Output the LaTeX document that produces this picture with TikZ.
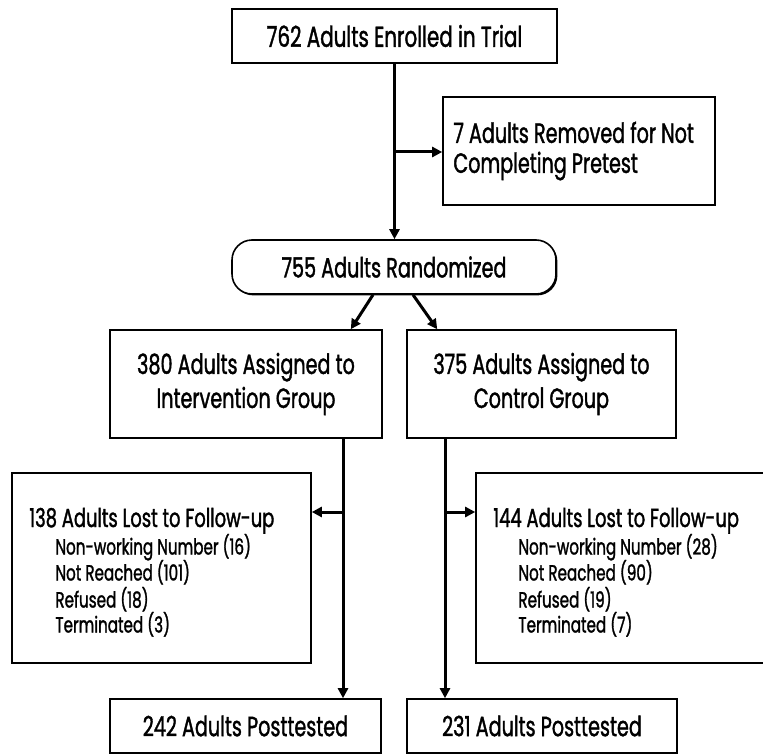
\documentclass[tikz,border=0pt]{standalone}
\usepackage{fontspec}
\setmainfont{Poppins}[FakeStretch=0.69,FakeBold=1.3]
\usetikzlibrary{arrows.meta,shadows}
\begin{document}
\begin{tikzpicture}[x=0.5pt,y=-0.5pt,
  box/.style={draw=black, line width=0.8pt, fill=white, inner sep=0pt, align=center,
    drop shadow={shadow xshift=0.7pt, shadow yshift=-0.7pt, fill=black, opacity=1},
    font=\fontsize{13.9}{17}\selectfont},
  conn/.style={line width=1.5pt, -{Triangle[length=5pt,width=5pt]}},
  txt/.style={anchor=west, inner sep=0pt, align=left, font=\fontsize{13.9}{15}\selectfont},
  title/.style={anchor=base west, inner sep=0pt, font=\fontsize{13}{15}\selectfont},
  item/.style={anchor=base west, inner sep=0pt, font=\fontsize{11}{13}\selectfont},
]
\clip (0,0) rectangle (763,754);
% boxes
\node[box, minimum width=162.5pt, minimum height=27pt, font=\fontsize{14.4}{17}\selectfont] (enrol) at (394.5,36) {762 Adults Enrolled in Trial};
\node[box, minimum width=136pt, minimum height=54pt] (removed) at (579,151) {};
\node[txt] (removedtxt) at (453,151) {7 Adults Removed for Not\\Completing Pretest};
\node[box, rounded corners=10pt, minimum width=162pt, minimum height=27pt] (rand) at (394,267) {755 Adults Randomized};
\node[box, minimum width=136pt, minimum height=54pt] (interv) at (246,384) {380 Adults Assigned to\\Intervention Group};
\node[box, minimum width=134.5pt, minimum height=54pt] (ctrl) at (541.5,384) {375 Adults Assigned to\\Control Group};
\node[box, minimum width=149.5pt, minimum height=95pt] (lost1) at (161.5,568) {};
\node[box, minimum width=152pt, minimum height=95pt] (lost2) at (628,568) {};
\node[box, minimum width=135.5pt, minimum height=27pt] (post1) at (245.5,726) {242 Adults Posttested};
\node[box, minimum width=135pt, minimum height=27pt] (post2) at (542,726) {231 Adults Posttested};
% lost texts
\node[title] (l1t) at (29,527) {138 Adults Lost to Follow-up};
\node[item] (l1a) at (55,554.5) {Non-working Number (16)};
\node[item] (l1b) at (55,580.5) {Not Reached (101)};
\node[item] (l1c) at (55,607.5) {Refused (18)};
\node[item] (l1d) at (55,632.5) {Terminated (3)};
\node[title] (l2t) at (493,527) {144 Adults Lost to Follow-up};
\node[item] (l2a) at (518,554.5) {Non-working Number (28)};
\node[item] (l2b) at (518,580.5) {Not Reached (90)};
\node[item] (l2c) at (518,607.5) {Refused (19)};
\node[item] (l2d) at (518,632.5) {Terminated (7)};
% connectors
\draw[conn] (enrol.south) -- (enrol.south |- rand.north);
\coordinate (b0) at (394.5,152);
\draw[conn] (b0) -- (b0 -| removed.west);
\draw[conn] ([xshift=-10.5pt]rand.south) -- ([xshift=-16pt]interv.north east);
\draw[conn] ([xshift=9.5pt]rand.south) -- ([xshift=15.5pt]ctrl.north west);
\coordinate (i0) at (343,438);
\coordinate (c0) at (445,438);
\draw[conn] (i0) -- (i0 |- post1.north);
\draw[conn] (c0) -- (c0 |- post2.north);
\coordinate (i1) at (343,512);
\coordinate (c1) at (445,512);
\draw[conn] (i1) -- (i1 -| lost1.east);
\draw[conn] (c1) -- (c1 -| lost2.west);
\end{tikzpicture}
\end{document}
